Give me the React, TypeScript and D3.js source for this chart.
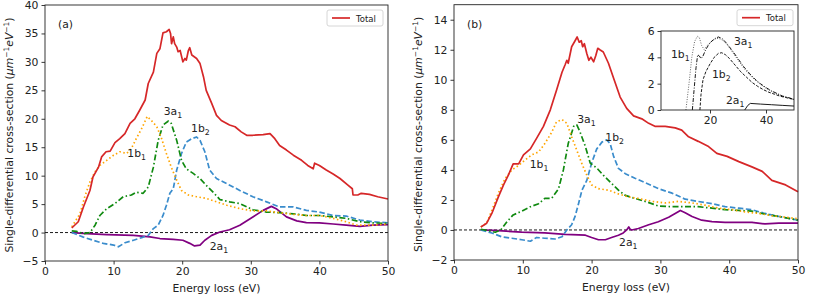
import React, { useEffect, useRef } from 'react';
import * as d3 from 'd3';

type Pt = [number, number];

// panel (a) series
const totalA: Pt[] = [[3.9,0.8],[4.85,1.9],[5.6,4.5],[6.55,7.4],[7.0,9.8],[7.8,11.5],[8.25,13.3],[8.9,14.2],[9.5,14.3],[10.2,15.8],[10.9,16.5],[11.65,17.4],[12.4,19.2],[13.1,20.0],[13.8,21.5],[14.6,23.3],[15.05,26.2],[15.8,28.2],[16.3,31.5],[16.75,32.3],[17.2,35.1],[17.7,35.3],[18.1,35.7],[18.3,35.0],[18.45,33.2],[18.7,34.4],[18.9,33.2],[19.2,32.6],[19.4,31.8],[19.7,32.0],[20.1,30.0],[20.4,30.6],[20.6,30.3],[20.9,32.0],[21.1,32.5],[21.4,31.2],[22.1,30.6],[22.6,29.7],[23.1,27.4],[23.5,25.0],[24.3,22.7],[25.0,20.6],[25.7,19.7],[26.9,18.9],[27.7,18.6],[28.6,17.7],[29.4,17.1],[30.3,17.1],[31.8,17.2],[32.8,17.4],[33.5,16.5],[34.2,15.3],[35.2,14.5],[36.2,13.6],[37.4,12.7],[38.3,11.8],[39.1,11.2],[39.3,12.2],[40.0,11.8],[41.0,11.0],[42.0,10.3],[43.0,9.5],[44.2,8.3],[44.8,7.7],[44.9,6.6],[45.6,6.6],[46.1,6.9],[47.3,6.7],[48.5,6.3],[50,5.9]];
const b1A: Pt[] = [[3.9,1.0],[5.1,3.3],[5.8,6.3],[6.55,8.9],[7.3,10.7],[8.0,11.8],[9.0,12.7],[10.0,13.6],[10.9,14.2],[11.9,13.9],[12.6,14.8],[13.3,16.5],[14.1,18.3],[14.9,20.4],[15.5,19.7],[16.3,18.6],[17.0,16.5],[17.7,13.9],[18.4,11.5],[19.2,9.2],[19.9,7.4],[20.9,6.6],[22.1,6.3],[23.5,6.0],[25.0,5.4],[26.5,4.8],[28.4,4.2],[30.3,3.8],[32.3,3.8],[34.2,3.5],[36.2,3.2],[38.1,3.0],[40,3.0],[42,2.5],[43.9,1.9],[45.4,1.3],[47.8,1.3],[50,1.5]];
const a3A: Pt[] = [[3.9,0.3],[4.6,0.2],[5.6,-0.2],[6.55,0],[7.3,1.3],[8.0,3.0],[9.0,4.2],[10.2,5.1],[11.4,6.3],[12.6,6.6],[13.3,7.1],[14.3,6.9],[15.05,8.0],[15.8,11.5],[16.5,16.2],[17.2,18.9],[18.0,19.6],[18.4,19.2],[19.2,16.2],[19.9,12.7],[20.6,11.2],[21.6,10.4],[22.6,9.5],[23.5,8.3],[24.5,7.1],[25.5,5.8],[26.9,5.4],[28.4,5.1],[30.3,4.0],[32.3,3.6],[34.2,3.5],[36.2,3.3],[38.1,3.0],[40,3.0],[42,2.75],[43.9,2.5],[45.9,1.9],[47.8,1.7],[50,1.6]];
const b2A: Pt[] = [[3.9,0],[5.6,-0.8],[7.0,-1.35],[8.5,-1.9],[10.0,-2.2],[10.7,-2.5],[11.65,-1.8],[12.9,-1.35],[14.1,-0.9],[15.05,-0.5],[15.8,0.7],[16.5,1.3],[17.2,3.0],[17.7,4.8],[18.2,6.9],[18.7,7.7],[19.2,11.0],[19.9,13.9],[20.6,15.9],[21.4,16.5],[22.1,16.8],[22.6,16.2],[23.3,14.2],[24.0,11.0],[25.0,9.5],[26.5,8.6],[28.4,7.4],[30.3,6.3],[32.3,5.4],[34.2,4.5],[36.2,4.5],[38.1,3.9],[40,3.6],[42,3.0],[43.9,2.9],[45.9,2.2],[47.8,1.9],[50,1.7]];
const a2A: Pt[] = [[3.9,0],[6.1,-0.2],[9.0,-0.35],[12.9,-0.5],[15.3,-0.75],[16.75,-1.05],[18.7,-1.2],[20.1,-1.35],[21.1,-1.9],[21.8,-2.35],[22.6,-2.2],[23.3,-1.35],[24.3,-0.5],[25.5,0.1],[26.9,0.5],[28.4,1.3],[30.3,2.75],[31.8,3.9],[33.0,4.6],[33.7,4.2],[35.2,2.75],[36.7,2.05],[38.1,1.75],[40,1.7],[42,1.5],[43.9,1.3],[45.9,1.1],[47.8,1.3],[50,1.4]];

// panel (b) series
const totalB: Pt[] = [[3.9,0.2],[4.75,0.45],[5.5,1.1],[6.45,2.2],[7.2,3.0],[7.9,3.65],[8.6,4.4],[9.4,4.4],[10.1,5.0],[11.1,5.4],[12.0,6.1],[13.0,6.9],[14.0,8.0],[14.9,9.3],[15.7,10.5],[16.15,11.0],[16.4,11.3],[16.6,11.1],[17.1,12.2],[17.6,12.6],[17.9,12.85],[18.2,12.5],[18.5,12.6],[18.7,12.2],[18.95,12.4],[19.3,11.75],[19.6,11.3],[19.9,11.5],[20.3,11.2],[20.6,11.6],[20.9,12.1],[21.2,12.0],[21.7,11.85],[22.45,11.1],[23.2,10.1],[24.15,8.85],[25.1,8.1],[26.1,7.6],[27.3,7.4],[28.3,7.1],[29.2,6.9],[30.7,6.9],[32.15,6.8],[33.1,6.65],[34.1,6.2],[35.5,5.9],[37.0,5.55],[38.2,5.1],[39.7,4.9],[41.4,4.55],[43.3,4.2],[44.8,3.9],[46.2,3.3],[48.2,3.0],[50,2.55]];
const b1B: Pt[] = [[3.9,0.2],[4.75,0.45],[5.5,1.3],[6.45,2.45],[7.4,3.4],[8.4,4.0],[9.4,4.3],[10.3,4.65],[11.3,5.0],[12.3,5.2],[13.2,5.75],[14.2,6.5],[14.9,7.2],[15.7,7.35],[16.4,7.1],[17.1,6.2],[17.85,5.3],[18.6,4.4],[19.3,3.65],[20.0,3.0],[21.0,2.75],[22.45,2.65],[23.9,2.4],[25.4,2.2],[26.8,2.1],[28.8,1.9],[30.7,1.8],[32.6,1.9],[34.6,1.8],[36.5,1.65],[38.5,1.45],[40.4,1.35],[42.3,1.2],[44.3,1.1],[46.2,0.95],[48.2,0.85],[50,0.75]];
const a3B: Pt[] = [[3.9,0.05],[5.0,-0.05],[6.0,-0.15],[6.8,0],[7.7,0.55],[8.6,1.0],[9.85,1.25],[11.1,1.55],[12.3,1.75],[13.2,2.1],[14.2,2.1],[15.2,2.75],[15.9,4.0],[16.6,5.75],[17.4,6.9],[17.85,7.0],[18.3,6.55],[19.1,5.55],[19.8,4.45],[20.8,4.1],[21.7,3.65],[22.9,3.1],[23.9,2.65],[24.9,2.3],[26.3,2.1],[27.8,1.9],[29.7,1.6],[31.7,1.55],[33.6,1.55],[35.5,1.55],[37.5,1.45],[39.4,1.35],[41.4,1.3],[43.3,1.25],[45.2,1.05],[47.2,0.9],[50,0.65]];
const b2B: Pt[] = [[3.9,0],[5.5,-0.2],[6.9,-0.45],[8.4,-0.55],[9.85,-0.65],[11.1,-0.75],[12.0,-0.5],[13.2,-0.55],[14.7,-0.6],[15.7,-0.45],[16.4,0],[17.1,0.35],[17.6,0.9],[18.1,1.75],[18.6,2.65],[19.3,3.3],[20.0,4.45],[20.75,5.4],[21.5,5.85],[22.2,6.0],[22.7,5.75],[23.2,4.9],[23.9,4.1],[24.9,3.75],[26.3,3.45],[27.8,3.15],[29.7,2.75],[31.7,2.45],[33.6,2.05],[35.5,1.9],[37.5,1.75],[39.4,1.55],[41.4,1.45],[43.3,1.35],[45.2,1.1],[47.2,0.9],[50,0.65]];
const a2B: Pt[] = [[3.9,0],[6.45,-0.05],[9.85,-0.15],[13.2,-0.2],[16.15,-0.3],[19.1,-0.35],[20.0,-0.5],[21.0,-0.65],[22.0,-0.65],[22.9,-0.5],[23.9,-0.35],[24.6,-0.2],[25.1,0],[25.4,0.2],[25.6,0.05],[25.85,0],[26.8,0.1],[28.3,0.35],[29.7,0.55],[31.2,0.85],[32.15,1.1],[32.9,1.3],[33.6,1.15],[34.6,0.9],[36.0,0.65],[37.5,0.55],[39.4,0.5],[41.4,0.5],[43.3,0.5],[45.2,0.4],[47.2,0.45],[50,0.45]];

// inset of panel (b)
const ins1b1: Pt[] = [[11.4,0],[12.5,2],[13.5,4],[14.5,5.2],[15.5,5.6],[16.2,5.5],[17,4.9],[17.9,4.6],[19,4.9],[20.5,5.2],[22,5.4],[23,5.45],[24.5,5.3],[26,5.0],[28,4.4],[30,3.8],[32,3.2],[34,2.7],[36,2.3],[38,1.95],[40,1.65],[42,1.4],[44,1.2],[46,1.05],[48,0.9],[50,0.8]];
const ins3a1: Pt[] = [[13.7,0],[14.3,1.5],[15,3.2],[15.6,4.2],[16.2,4.1],[16.8,3.9],[17.5,4.1],[18.5,4.6],[20,5.1],[21.5,5.4],[23,5.55],[24.5,5.4],[26,5.05],[28,4.5],[30,3.9],[32,3.3],[34,2.8],[36,2.35],[38,2.0],[40,1.7],[42,1.45],[44,1.25],[46,1.05],[48,0.95],[50,0.8]];
const ins1b2: Pt[] = [[16.4,0],[16.8,1.2],[17.5,2.3],[18.5,2.9],[20,3.5],[21.5,4.0],[23,4.3],[24.2,4.35],[25.5,4.2],[27,3.9],[29,3.4],[31,2.9],[33,2.5],[35,2.1],[37,1.8],[39,1.55],[41,1.35],[43,1.2],[45,1.05],[47,0.95],[50,0.8]];
const ins2a1: Pt[] = [[32.4,0],[33.5,0.35],[34.4,0.5],[38,0.45],[42,0.4],[46,0.35],[50,0.3]];

const xTicks = [0, 10, 20, 30, 40, 50];
const yTicksA = [-5, 0, 5, 10, 15, 20, 25, 30, 35, 40];
const yTicksB = [-2, 0, 2, 4, 6, 8, 10, 12, 14];
const insXTicks = [20, 40];
const insYTicks = [0, 2, 4, 6];

const FONT = 'DejaVu Sans, sans-serif';
const INK = '#222';
const FS = 10.8;

const fmt = (v: number) => (v < 0 ? '\u2212' + Math.abs(v) : String(v));

function styleAxis(a: any) {
  a.select('.domain').remove();
  a.selectAll('line').attr('stroke', INK).attr('stroke-width', 0.9);
  a.selectAll('text').attr('fill', INK).style('font-family', FONT).style('font-size', FS + 'px');
}

function addLabel(g: any, px: number, py: number, main: string, sub: string, size: number) {
  const t = g.append('text').attr('x', px).attr('y', py).attr('fill', INK)
    .style('font-family', FONT).style('font-size', size + 'px');
  t.append('tspan').text(main);
  t.append('tspan').attr('dy', 3).style('font-size', (size * 0.72) + 'px').text(sub);
}

function drawPanel(svg: any, opt: any) {
  const x = d3.scaleLinear().domain([0, 50]).range([opt.left, opt.right]);
  const y = d3.scaleLinear().domain(opt.yDomain).range([opt.bottom, opt.top]);
  const g = svg.append('g');

  const line = d3.line<Pt>().x(d => x(d[0])).y(d => y(d[1]));

  g.append('line')
    .attr('x1', x(0)).attr('x2', x(50)).attr('y1', y(0)).attr('y2', y(0))
    .attr('stroke', '#000').attr('stroke-width', 0.9).attr('stroke-dasharray', '3,2');

  const series = [
    { d: opt.a2, color: '#800080', dash: null },
    { d: opt.b2, color: '#3a8ccc', dash: '5.5,2.5' },
    { d: opt.a3, color: '#108a10', dash: '6,2.5,1.5,2.5' },
    { d: opt.b1, color: '#ffa500', dash: '1.5,2.5' },
    { d: opt.total, color: '#d62728', dash: null },
  ];
  series.forEach(s => {
    g.append('path')
      .datum(s.d)
      .attr('fill', 'none')
      .attr('stroke', s.color)
      .attr('stroke-width', 1.7)
      .attr('stroke-linejoin', 'round')
      .attr('stroke-dasharray', s.dash)
      .attr('d', line);
  });

  g.append('rect')
    .attr('x', opt.left).attr('y', opt.top)
    .attr('width', opt.right - opt.left).attr('height', opt.bottom - opt.top)
    .attr('fill', 'none').attr('stroke', INK).attr('stroke-width', 0.9);

  styleAxis(g.append('g').attr('transform', `translate(0,${opt.bottom})`)
    .call(d3.axisBottom(x).tickValues(xTicks).tickSize(3.5).tickPadding(3).tickFormat(fmt as any)));
  styleAxis(g.append('g').attr('transform', `translate(${opt.left},0)`)
    .call(d3.axisLeft(y).tickValues(opt.yTicks).tickSize(3.5).tickPadding(3).tickFormat(fmt as any)));

  g.append('text')
    .attr('x', (opt.left + opt.right) / 2).attr('y', opt.bottom + 31)
    .attr('text-anchor', 'middle').attr('fill', INK)
    .style('font-family', FONT).style('font-size', FS + 'px')
    .text('Energy loss (eV)');

  const yl = g.append('text')
    .attr('transform', `translate(${opt.yLabelX},${(opt.top + opt.bottom) / 2 + 2}) rotate(-90)`)
    .attr('text-anchor', 'middle').attr('fill', INK)
    .style('font-family', FONT).style('font-size', FS + 'px');
  yl.append('tspan').text('Single-differential cross-section (');
  yl.append('tspan').style('font-style', 'italic').text('\u03bcm');
  yl.append('tspan').attr('dy', -4).style('font-size', '7.5px').text('\u22121');
  yl.append('tspan').attr('dy', 4).style('font-style', 'italic').text('eV');
  yl.append('tspan').attr('dy', -4).style('font-size', '7.5px').text('\u22121');
  yl.append('tspan').attr('dy', 4).text(')');

  g.append('text')
    .attr('x', opt.left + 13).attr('y', opt.top + 23)
    .attr('fill', INK).style('font-family', FONT).style('font-size', FS + 'px')
    .text(opt.tag);

  // legend
  const lg = g.append('g').attr('transform', `translate(${opt.right - 61},${opt.top + 5})`);
  lg.append('rect').attr('width', 56).attr('height', 16).attr('rx', 2)
    .attr('fill', '#fff').attr('stroke', '#ccc').attr('stroke-width', 0.8);
  lg.append('line').attr('x1', 5).attr('x2', 23).attr('y1', 8).attr('y2', 8)
    .attr('stroke', '#d62728').attr('stroke-width', 1.7);
  lg.append('text').attr('x', 29).attr('y', 11.5).attr('fill', INK)
    .style('font-family', FONT).style('font-size', '8.5px').text('Total');

  opt.labels.forEach((l: any) => addLabel(g, x(l.x), y(l.y), l.t, l.s, FS));
  return g;
}

function drawInset(svg: any) {
  const left = 661, right = 794, top = 31, bottom = 110;
  const x = d3.scaleLinear().domain([2.5, 50]).range([left, right]);
  const y = d3.scaleLinear().domain([0, 6]).range([bottom, top]);
  const g = svg.append('g');
  g.append('rect').attr('x', left).attr('y', top).attr('width', right - left).attr('height', bottom - top)
    .attr('fill', '#fff');
  const clip = g.append('clipPath').attr('id', 'insclip');
  clip.append('rect').attr('x', left).attr('y', top - 2).attr('width', right - left).attr('height', bottom - top + 2);
  const line = d3.line<Pt>().x(d => x(d[0])).y(d => y(d[1]));
  const series = [
    { d: ins1b1, dash: '1,1.5', color: '#555' },
    { d: ins3a1, dash: '4,1.5,1,1.5', color: '#000' },
    { d: ins1b2, dash: '3,1.5', color: '#000' },
    { d: ins2a1, dash: null, color: '#000' },
  ];
  series.forEach(s => {
    g.append('path').datum(s.d).attr('fill', 'none').attr('stroke', s.color)
      .attr('stroke-width', 0.9).attr('stroke-dasharray', s.dash)
      .attr('clip-path', 'url(#insclip)').attr('d', line);
  });
  g.append('rect').attr('x', left).attr('y', top).attr('width', right - left).attr('height', bottom - top)
    .attr('fill', 'none').attr('stroke', INK).attr('stroke-width', 0.9);
  styleAxis(g.append('g').attr('transform', `translate(0,${bottom})`)
    .call(d3.axisBottom(x).tickValues(insXTicks).tickSize(3.5).tickPadding(3).tickFormat(d3.format('d'))));
  styleAxis(g.append('g').attr('transform', `translate(${left},0)`)
    .call(d3.axisLeft(y).tickValues(insYTicks).tickSize(3.5).tickPadding(3).tickFormat(d3.format('d'))));
  addLabel(g, 671, 58, '1b', '1', FS);
  addLabel(g, 734, 45, '3a', '1', FS);
  addLabel(g, 712, 78, '1b', '2', FS);
  addLabel(g, 726, 104, '2a', '1', FS);
}

export default function App() {
  const ref = useRef<SVGSVGElement>(null);
  useEffect(() => {
    const svg = d3.select(ref.current);
    svg.selectAll('*').remove();
    drawPanel(svg, {
      left: 45, right: 388, top: 5, bottom: 261, yDomain: [-5, 40], yTicks: yTicksA,
      yLabelX: 13, tag: '(a)', total: totalA, b1: b1A, a3: a3A, b2: b2A, a2: a2A,
      labels: [
        { x: 17.3, y: 20.6, t: '3a', s: '1' },
        { x: 21.3, y: 17.7, t: '1b', s: '2' },
        { x: 12.0, y: 13.2, t: '1b', s: '1' },
        { x: 24.0, y: -3.0, t: '2a', s: '1' },
      ],
    });
    drawPanel(svg, {
      left: 454, right: 798, top: 4.7, bottom: 260, yDomain: [-2, 15], yTicks: yTicksB,
      yLabelX: 422, tag: '(b)', total: totalB, b1: b1B, a3: a3B, b2: b2B, a2: a2B,
      labels: [
        { x: 17.9, y: 7.1, t: '3a', s: '1' },
        { x: 22.0, y: 5.9, t: '1b', s: '2' },
        { x: 11.0, y: 4.1, t: '1b', s: '1' },
        { x: 24.0, y: -1.05, t: '2a', s: '1' },
      ],
    });
    drawInset(svg);
  }, []);
  return (
    <svg ref={ref} width={814} height={297}
      style={{ position: 'absolute', left: 0, top: 0, background: '#fff' }} />
  );
}
